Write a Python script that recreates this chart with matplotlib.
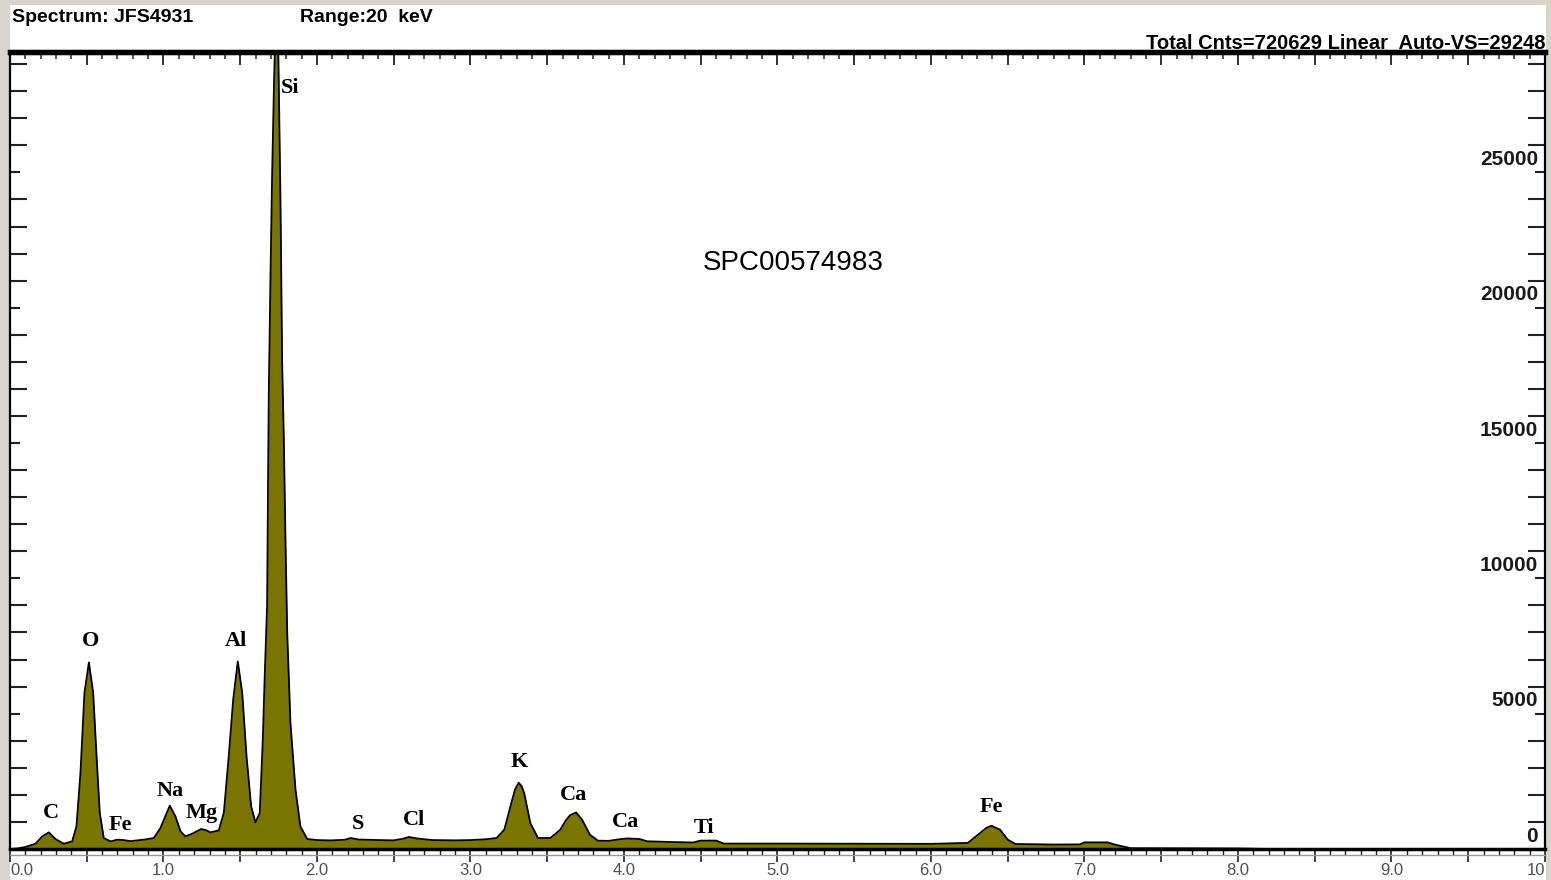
import numpy as np
import matplotlib
matplotlib.use("Agg")
import matplotlib.pyplot as plt
from matplotlib.ticker import MultipleLocator, FixedLocator
from matplotlib.patches import Rectangle
from matplotlib.lines import Line2D

plt.rcParams['font.family'] = ['Liberation Sans', 'DejaVu Sans']

# spectrum (keV, counts)
energy_kev = [0.00, 0.05, 0.10, 0.166, 0.21, 0.253, 0.296, 0.35, 0.405, 0.433,
              0.459, 0.485, 0.514, 0.542, 0.564, 0.585, 0.611, 0.655, 0.698, 0.74,
              0.785, 0.83, 0.872, 0.937, 0.98, 1.041, 1.078, 1.111, 1.143, 1.187,
              1.245, 1.275, 1.306, 1.36, 1.393, 1.425, 1.454, 1.484, 1.513, 1.541,
              1.571, 1.599, 1.627, 1.647, 1.66, 1.675, 1.68, 1.686, 1.697, 1.708,
              1.72, 1.73, 1.745, 1.751, 1.762, 1.773, 1.784, 1.795, 1.806, 1.827,
              1.86, 1.892, 1.936, 2.0, 2.088, 2.18, 2.22, 2.27, 2.4, 2.5,
              2.56, 2.6, 2.65, 2.75, 2.9, 3.0, 3.1, 3.17, 3.22, 3.26,
              3.29, 3.314, 3.335, 3.35, 3.39, 3.44, 3.52, 3.585, 3.62, 3.649,
              3.688, 3.727, 3.778, 3.83, 3.9, 3.97, 4.02, 4.1, 4.15, 4.3,
              4.45, 4.5, 4.6, 4.65, 5.0, 5.5, 6.0, 6.24, 6.32, 6.36,
              6.394, 6.45, 6.5, 6.55, 6.8, 6.97, 7.0, 7.15, 7.2, 7.3,
              8.0, 8.2, 10.0]
counts = [0, 20, 74, 196, 466, 614, 370, 196, 281, 835,
          2808, 5764, 6894, 5764, 3422, 1330, 406, 281, 344, 330,
          290, 320, 344, 406, 776, 1600, 1204, 650, 466, 565,
          739, 700, 614, 687, 1330, 3422, 5516, 6932, 5764, 3422,
          1575, 984, 1330, 4038, 6503, 9000, 12800, 16860, 21160, 25000,
          28300, 30500, 30500, 28300, 24000, 18000, 15120, 11317, 7990, 4655,
          2190, 835, 370, 330, 318, 340, 406, 350, 330, 320,
          380, 443, 390, 330, 320, 330, 360, 406, 713, 1570,
          2200, 2450, 2300, 2058, 957, 406, 406, 713, 1050, 1250,
          1350, 1083, 528, 307, 300, 360, 390, 370, 285, 260,
          240, 310, 310, 200, 200, 195, 190, 225, 590, 780,
          860, 713, 344, 185, 165, 170, 245, 245, 160, 30,
          20, 0, 0]

peak_names = ['C', 'O', 'Fe', 'Na', 'Mg', 'Al', 'Si', 'S', 'Cl', 'K', 'Ca', 'Ca', 'Ti', 'Fe']
peak_x = [0.264, 0.524, 0.72, 1.046, 1.248, 1.469, 1.827, 2.264, 2.629, 3.319, 3.671, 4.01, 4.524, 6.394]
peak_y = [1341, 7696, 897, 2161, 1312, 7696, 28126, 934, 1082, 3225, 2006, 1008, 786, 1563]

xtick_pos = [0, 1, 2, 3, 4, 5, 6, 7, 8, 9, 10]
xtick_labels = ['0.0', '1.0', '2.0', '3.0', '4.0', '5.0', '6.0', '7.0', '8.0', '9.0', '10']
ytick_labels = [0, 5000, 10000, 15000, 20000, 25000]

W, H = 1551, 880
fig = plt.figure(figsize=(W / 100, H / 100), dpi=100, facecolor='#d9d3ce')
fig.patches.append(Rectangle((10 / W, 0), 1536 / W, (H - 5) / H, transform=fig.transFigure,
                             facecolor='white', edgecolor='none', zorder=-5))

ax = fig.add_axes([10 / W, (H - 849) / H, 1535 / W, (849 - 52) / H])
ax.set_facecolor('white')

ax.fill_between(energy_kev, counts, 0, color='#7a7500', linewidth=0, zorder=2)
ax.plot(energy_kev, counts, color='black', linewidth=1.3, zorder=3)

ax.set_xlim(0, 10)
ax.set_ylim(0, 29450)

# x axis: bottom ticks out with labels, top ticks in
half_ticks = [v / 2 for v in range(21)]
ax.xaxis.set_major_locator(FixedLocator(half_ticks))
ax.set_xticklabels([xtick_labels[xtick_pos.index(int(v))] if v == int(v) else '' for v in half_ticks])
ax.xaxis.set_minor_locator(MultipleLocator(0.1))
ax.tick_params(axis='x', which='major', direction='out', length=9, width=1.2, color='#222',
               labelsize=12, labelcolor='#505050', pad=1)
ax.tick_params(axis='x', which='minor', direction='out', length=4, width=1.0, color='#222')
ax.get_xticklabels()[0].set_ha('left')
ax.get_xticklabels()[-1].set_ha('right')

top = ax.secondary_xaxis('top')
top.xaxis.set_major_locator(FixedLocator(half_ticks))
top.xaxis.set_minor_locator(MultipleLocator(0.1))
top.tick_params(which='major', direction='in', length=9, width=1.3, color='#222', labeltop=False)
top.tick_params(which='minor', direction='in', length=5, width=1.1, color='#222')
top.spines['top'].set_linewidth(3.8)

# y axis: long ticks every 1000, short at every 5000, both sides inward
ax.yaxis.set_major_locator(MultipleLocator(5000))
ax.yaxis.set_minor_locator(MultipleLocator(1000))
ax.tick_params(axis='y', which='major', direction='in', length=7, width=1.5, color='#222',
               left=True, right=True, labelleft=False)
ax.tick_params(axis='y', which='minor', direction='in', length=12.5, width=1.5, color='#222',
               left=True, right=True)

for v in ytick_labels:
    ax.text(0.9955, v + 480, str(v), transform=ax.get_yaxis_transform(), ha='right', va='center',
            fontsize=15, fontweight='bold', color='#1a1a1a')

ax.spines['bottom'].set_linewidth(2.5)
ax.spines['left'].set_linewidth(1.6)
ax.spines['right'].set_linewidth(1.6)
ax.spines['top'].set_linewidth(3.8)

fig.add_artist(Line2D([10 / W, 1545 / W], [(H - 855) / H] * 2, color='#999999', lw=1))

for name, x, y in zip(peak_names, peak_x, peak_y):
    ax.text(x, y, name, ha='center', va='center', fontsize=16, fontweight='bold',
            family=['Liberation Serif', 'DejaVu Serif'], color='black', zorder=4)

ax.text(5.10, 21660, 'SPC00574983', ha='center', va='center', fontsize=20, color='black')

fig.text(12 / W, 1 - 18 / H, 'Spectrum: JFS4931', fontsize=14, fontweight='bold', va='center')
fig.text(300 / W, 1 - 18 / H, 'Range:20  keV', fontsize=14, fontweight='bold', va='center')
fig.text(1545 / W, 1 - 49 / H, 'Total Cnts=720629 Linear  Auto-VS=29248', fontsize=14.5,
         fontweight='bold', ha='right', va='baseline')

fig.savefig('out.png', dpi=100, facecolor=fig.get_facecolor())
